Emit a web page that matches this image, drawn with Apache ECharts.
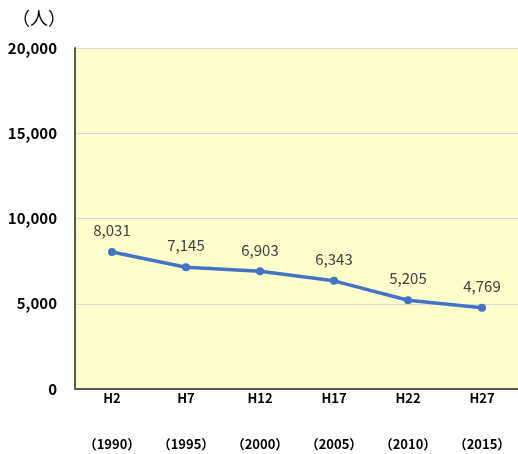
<!DOCTYPE html>
<html>
<head>
<meta charset="utf-8">
<script src="https://cdn.jsdelivr.net/npm/echarts@6/dist/echarts.min.js"></script>
<style>
  html, body { margin: 0; padding: 0; background: #fff; }
  #chart { width: 518px; height: 454px; }
</style>
</head>
<body>
<div id="chart"></div>
<script>
const eras = ['H2', 'H7', 'H12', 'H17', 'H22', 'H27'];
const years = ['1990', '1995', '2000', '2005', '2010', '2015'];
const population = [8031, 7145, 6903, 6343, 5205, 4769];

const font = '"Noto Sans CJK JP", "Noto Sans", sans-serif';
const chart = echarts.init(document.getElementById('chart'), null, { renderer: 'canvas' });

chart.setOption({
    backgroundColor: '#fff',
    animation: false,
    grid: {
        left: 75, right: -1, top: 48, bottom: 65,
        outerBoundsMode: 'none', containLabel: false,
        backgroundColor: '#FFFFCC', show: true, borderWidth: 0,
    },
    graphic: [{
        type: 'text', left: 12, top: 9,
        style: { text: '（人）', font: '18px ' + font, fill: '#000' },
    }],
    xAxis: {
        type: 'category',
        data: eras.map((e, i) => e + '\n（' + years[i] + '）'),
        boundaryGap: true,
        axisLine: { lineStyle: { color: '#595959', width: 2 } },
        axisTick: { show: false },
        axisLabel: {
            color: '#000', fontSize: 13, fontWeight: 'bold', fontFamily: font,
            lineHeight: 46, margin: -14,
        },
    },
    yAxis: {
        type: 'value', min: 0, max: 20000, interval: 5000,
        axisLine: { show: true, lineStyle: { color: '#595959', width: 2 } },
        axisTick: { show: false },
        axisLabel: {
            color: '#000', fontSize: 15, fontWeight: 'bold', fontFamily: font, margin: 18,
            formatter: (v) => v.toLocaleString('en-US'),
        },
        splitLine: { lineStyle: { color: '#D9D9D9', width: 1 } },
    },
    series: [{
        type: 'line',
        data: population,
        color: '#4472C4',
        lineStyle: { width: 3.5 },
        symbol: 'circle',
        symbolSize: 8,
        label: {
            show: true, position: 'top', distance: 10,
            color: '#404040', fontSize: 15, fontFamily: font,
            formatter: (p) => p.value.toLocaleString('en-US'),
        },
    }],
});
</script>
</body>
</html>
